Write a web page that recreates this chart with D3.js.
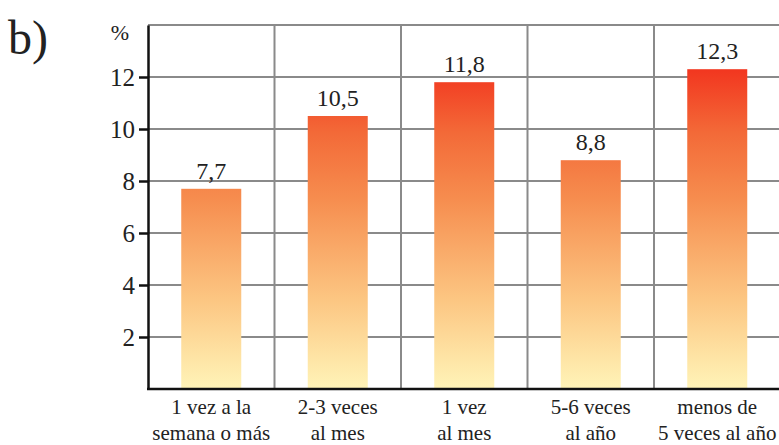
<!DOCTYPE html>
<html>
<head>
<meta charset="utf-8">
<script src="https://cdn.jsdelivr.net/npm/d3@7/dist/d3.min.js"></script>
<style>
  html, body { margin: 0; padding: 0; background: #fff; }
  svg { display: block; }
  .serif { font-family: "Liberation Serif"; }
</style>
</head>
<body>
<svg id="chart" width="779" height="445" font-family="Liberation Serif"></svg>
<script>
// Frequency categories (two-line labels)
const categories = [
  ["1 vez a la", "semana o más"],
  ["2-3 veces", "al mes"],
  ["1 vez", "al mes"],
  ["5-6 veces", "al año"],
  ["menos de", "5 veces al año"]
];
// Percentages per category
const values = [7.7, 10.5, 11.8, 8.8, 12.3];
// Value labels as printed (decimal comma)
const valueLabels = ["7,7", "10,5", "11,8", "8,8", "12,3"];
// Y ticks
const yTicks = [2, 4, 6, 8, 10, 12];
const yMax = 14;

const ink = "#222";
const svg = d3.select("#chart");
const plotLeft = 148, plotRight = 780.5, plotTop = 25, plotBottom = 389;

const x = d3.scaleBand().domain(d3.range(categories.length)).range([plotLeft, plotRight]).paddingInner(0).paddingOuter(0);
const y = d3.scaleLinear().domain([0, yMax]).range([plotBottom, plotTop]);
const barW = 60;

// Vertical gradient fixed in chart space so taller bars reach deeper red
const grad = svg.append("defs").append("linearGradient")
  .attr("id", "barGrad")
  .attr("gradientUnits", "userSpaceOnUse")
  .attr("x1", 0).attr("x2", 0)
  .attr("y1", y(0)).attr("y2", y(d3.max(values)));
[[0, "#fff4b8"], [0.28, "#fcc682"], [0.6, "#f68c4e"], [0.8, "#f36a38"], [1, "#f2361f"]]
  .forEach(([o, c]) => grad.append("stop").attr("offset", o).attr("stop-color", c));

// Grid lines
const grid = svg.append("g").attr("stroke", "#8a8a8a").attr("stroke-width", 2);
grid.selectAll("line.h").data(yTicks.concat([yMax])).join("line").attr("class", "h")
  .attr("x1", plotLeft).attr("x2", plotRight)
  .attr("y1", d => y(d)).attr("y2", d => y(d));
grid.selectAll("line.v").data(d3.range(1, categories.length + 1)).join("line").attr("class", "v")
  .attr("x1", d => plotLeft + d * x.step()).attr("x2", d => plotLeft + d * x.step())
  .attr("y1", y(yMax)).attr("y2", y(0));

// Bars
svg.append("g").selectAll("rect").data(values).join("rect")
  .attr("x", (d, i) => x(i) + x.bandwidth() / 2 - barW / 2)
  .attr("width", barW)
  .attr("y", d => y(d))
  .attr("height", d => y(0) - y(d))
  .attr("fill", "url(#barGrad)");

// Value labels
svg.append("g").selectAll("text").data(values).join("text")
  .attr("class", "serif")
  .attr("x", (d, i) => x(i) + x.bandwidth() / 2)
  .attr("y", d => y(d) - 10)
  .attr("text-anchor", "middle")
  .attr("fill", ink)
  .style("font-size", "24px")
  .text((d, i) => valueLabels[i]);

// Y axis
const yAxis = d3.axisLeft(y).tickValues(yTicks).tickSize(9).tickSizeOuter(0).tickPadding(4);
const ya = svg.append("g").attr("transform", `translate(${plotLeft},0)`).call(yAxis)
  .attr("font-family", "Liberation Serif");
ya.select(".domain").attr("stroke", "#111").attr("stroke-width", 2.5);
ya.selectAll(".tick line").attr("stroke", "#111").attr("stroke-width", 2.5);
ya.selectAll(".tick text").attr("class", "serif").attr("fill", ink)
  .style("font-size", "25px");

// X axis baseline
svg.append("line").attr("x1", plotLeft - 1).attr("x2", plotRight)
  .attr("y1", y(0)).attr("y2", y(0))
  .attr("stroke", "#111").attr("stroke-width", 2.5);

// Unit marker at the top of the axis
svg.append("text").attr("class", "serif").attr("x", 120).attr("y", 40).attr("text-anchor", "middle")
  .attr("fill", ink).style("font-size", "22px").text("%");

// Category labels
const cl = svg.append("g").selectAll("text").data(categories).join("text")
  .attr("class", "serif")
  .attr("text-anchor", "middle")
  .attr("fill", ink)
  .style("font-size", "21px");
cl.selectAll("tspan").data((d, i) => d.map(s => ({ s, i }))).join("tspan")
  .attr("x", d => x(d.i) + x.bandwidth() / 2)
  .attr("y", (d, j) => 414 + j * 26)
  .text(d => d.s);

// Panel letter
svg.append("text").attr("class", "serif").attr("x", 8).attr("y", 54)
  .attr("fill", ink).style("font-size", "48px").text("b)");
</script>
</body>
</html>
